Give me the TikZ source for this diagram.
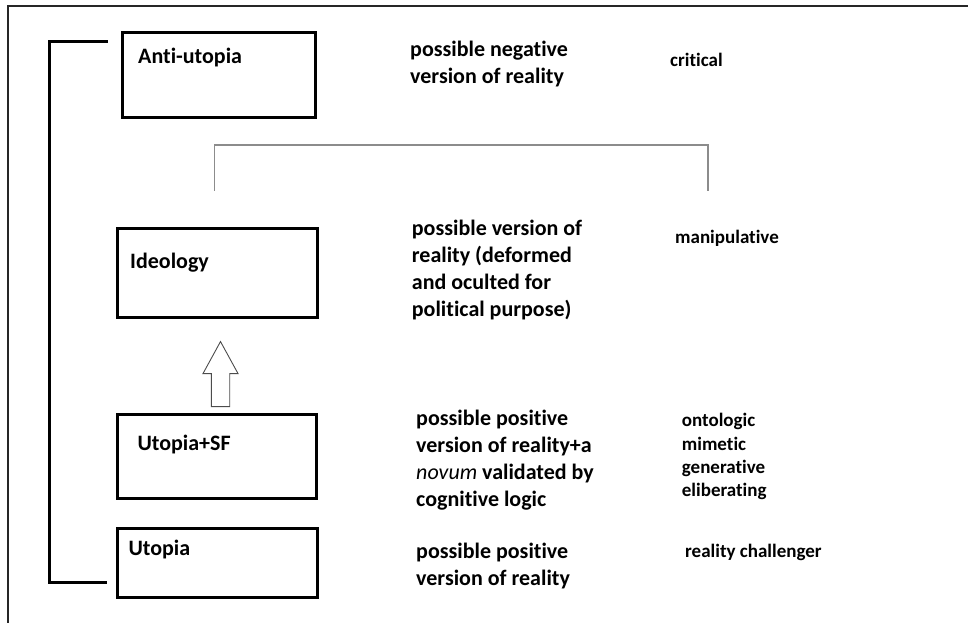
\documentclass[tikz,border=0pt]{standalone}
\usepackage{fontspec}
\setmainfont{Carlito}[Ligatures=NoCommon]
\usepackage{tikz}
\usetikzlibrary{positioning}

\begin{document}
\begin{tikzpicture}[x=1pt, y=-1pt,
    box/.style={rectangle, draw, line width=3pt, inner sep=0pt},
    lbl/.style={font=\bfseries\fontsize{22}{27}\selectfont, anchor=base west, inner sep=0pt, align=left},
    note/.style={font=\bfseries\fontsize{19}{23.3}\selectfont, anchor=base west, inner sep=0pt, align=left},
    frame/.style={draw, black!85, line width=2pt},
    bracket/.style={draw, line width=3pt},
    link/.style={draw, black!45, line width=1.2pt},
    hollow/.style={draw, black!70, line width=0.9pt, fill=white}]

    \useasboundingbox (0,0) rectangle (968,623);
    \path [frame] (968,5.7) -| (8.3,623);

    % boxes
    \node [box, minimum width=193.6pt, minimum height=85.3pt] (antiutopia) at (219,75.2) {};
    \node [box, minimum width=200pt, minimum height=88.7pt] (ideology) at (217.8,273.2) {};
    \node [box, minimum width=198.4pt, minimum height=83.7pt] (utopiasf) at (217,456.7) {};
    \node [box, minimum width=200pt, minimum height=69.3pt] (utopia) at (217.8,563.2) {};

    \node [lbl] (antilbl) at (138,64) {Anti-utopia};
    \node [lbl] (ideolbl) at (130,268) {Ideology};
    \node [lbl] (sflbl) at (137.3,450) {Utopia+SF};
    \node [lbl] (utolbl) at (128.3,555) {Utopia};

    % descriptions (placed at the baseline of their last line)
    \node [lbl] (negdesc) at (410,83.3) {possible negative\\version of reality};
    \node [lbl] (ideodesc) at (411.7,316.7) {possible version of\\reality (deformed\\and oculted for\\political purpose)};
    \node [lbl] (sfdesc) at (416,506) {possible positive\\version of reality+a\\{\mdseries\itshape novum} validated by\\cognitive logic};
    \node [lbl] (utodesc) at (416,585) {possible positive\\version of reality};

    \node [note] (critical) at (670,66.7) {critical};
    \node [note] (manipulative) at (675,243) {manipulative};
    \node [note] (modes) at (681.7,496.7) {ontologic\\mimetic\\generative\\eliberating};
    \node [note] (challenger) at (685,557.7) {reality challenger};

    % connectors
    \coordinate (brtop) at ([xshift=-13pt]antiutopia.west |- 0,42);
    \coordinate (brbot) at ([xshift=-9.5pt]utopia.west |- 0,582.3);
    \path [bracket] (brtop) -- ++(-58,0) |- (brbot);

    \coordinate (linkl) at ([xshift=-3.2pt,yshift=36.8pt]ideology.north);
    \coordinate (linkr) at (manipulative.north -| 708,0);
    \path [link] (linkl) -- ++(0,-45.5) -| (linkr |- linkl);

    \coordinate (sfarrow) at ([xshift=3.5pt,yshift=6.8pt]utopiasf.north);
    \path [hollow] (sfarrow) ++(-9.2,0) -- ++(0,-33) -- ++(-8.3,0) -- ++(17.5,-32)
        -- ++(17.5,32) -- ++(-8.3,0) -- ++(0,33) -- cycle;
\end{tikzpicture}
\end{document}
